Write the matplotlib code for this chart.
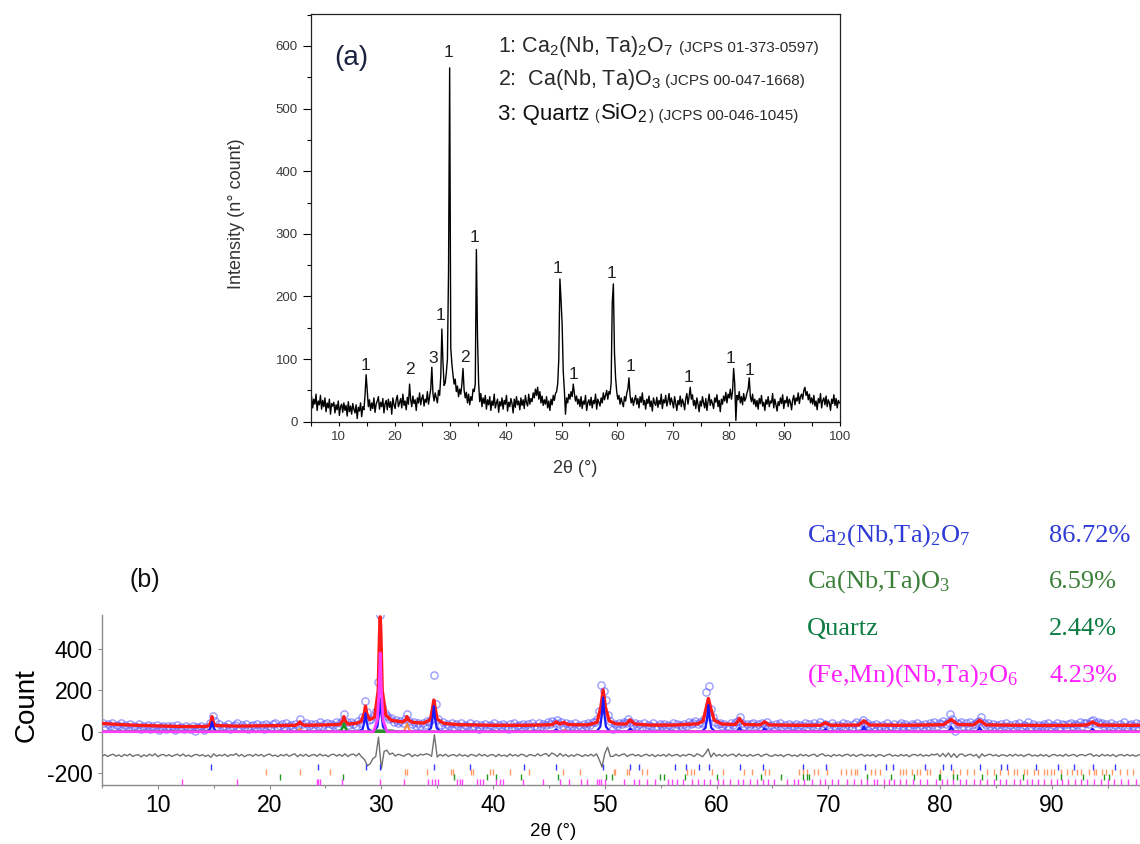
import numpy as np
import matplotlib
matplotlib.use("Agg")
import matplotlib.pyplot as plt
from matplotlib.ticker import MultipleLocator

plt.rcParams['font.family'] = ['Liberation Sans', 'DejaVu Sans']
plt.rcParams['mathtext.default'] = 'regular'
plt.rcParams['axes.unicode_minus'] = False

# ---------------- data ----------------
# observed XRD intensity, sampled every 0.2 deg starting at 5.1 deg
obs_start, obs_step = 5.1, 0.2
intensity = [
    40, 22, 36, 28, 44, 18, 33, 27, 42, 20,
    34, 24, 38, 16, 30, 22, 36, 12, 29, 25,
    31, 14, 27, 19, 33, 10, 24, 28, 15, 30,
    18, 26, 9, 32, 16, 25, 12, 29, 20, 14,
    27, 5, 23, 17, 30, 8, 24, 19, 42, 75,
    50, 24, 35, 18, 30, 21, 38, 15, 28, 33,
    40, 20, 31, 24, 37, 14, 29, 34, 19, 36,
    23, 32, 12, 38, 27, 21, 35, 42, 24, 30,
    37, 22, 44, 26, 33, 19, 39, 28, 60, 35,
    24, 41, 29, 35, 18, 38, 30, 46, 27, 37,
    43, 25, 36, 31, 48, 28, 40, 52, 87, 45,
    33, 46, 38, 30, 50, 42, 72, 148, 95, 58,
    62, 78, 100, 240, 565, 118, 92, 75, 60, 68,
    48, 57, 40, 52, 44, 60, 85, 50, 38, 47,
    30, 44, 27, 40, 34, 52, 48, 60, 275, 135,
    62, 32, 45, 24, 38, 29, 42, 20, 35, 27,
    40, 18, 33, 26, 44, 22, 30, 36, 15, 32,
    25, 38, 20, 34, 28, 42, 17, 31, 24, 37,
    29, 14, 36, 23, 40, 27, 33, 19, 38, 26,
    35, 21, 42, 30, 25, 44, 28, 37, 32, 46,
    38, 52, 42, 55, 36, 48, 30, 41, 26, 35,
    28, 40, 22, 33, 18, 36, 27, 42, 34, 45,
    48, 60, 100, 228, 195, 155, 80, 50, 12, 38,
    30, 44, 36, 48, 40, 60, 45, 33, 41, 28,
    36, 24, 40, 21, 33, 28, 42, 18, 30, 35,
    26, 39, 22, 34, 29, 44, 20, 36, 31, 25,
    38, 30, 46, 35, 42, 50, 36, 48, 44, 62,
    190, 220, 110, 70, 48, 36, 42, 28, 38, 30,
    24, 40, 33, 45, 52, 70, 42, 30, 38, 26,
    35, 42, 28, 37, 22, 40, 31, 46, 27, 34,
    20, 36, 29, 41, 24, 33, 17, 38, 30, 26,
    39, 23, 34, 28, 44, 21, 35, 30, 42, 25,
    33, 45, 27, 38, 31, 22, 40, 29, 18, 34,
    27, 41, 24, 36, 30, 19, 37, 45, 28, 40,
    55, 36, 43, 26, 34, 21, 38, 28, 16, 33,
    25, 40, 30, 22, 37, 18, 32, 44, 26, 35,
    29, 21, 38, 31, 43, 24, 34, 16, 36, 28,
    41, 33, 47, 30, 44, 38, 52, 36, 48, 85,
    60, 2, 42, 35, 48, 30, 40, 27, 45, 33,
    38, 46, 52, 70, 40, 32, 44, 28, 36, 24,
    34, 20, 37, 29, 42, 25, 31, 18, 35, 28,
    40, 24, 33, 30, 45, 22, 36, 27, 17, 32,
    26, 38, 29, 43, 21, 34, 30, 40, 24, 36,
    31, 19, 35, 42, 27, 38, 33, 46, 29, 40,
    44, 36, 50, 55, 42, 48, 35, 44, 30, 38,
    28, 42, 25, 33, 19, 37, 30, 45, 22, 34,
    38, 27, 41, 24, 35, 30, 18, 36, 29, 43,
    26, 37, 22, 34, 30,
]

# Rietveld calculated profile (red line)
calc_x = [5.0, 6.5, 8, 10, 12, 14.3,
          14.6, 14.77, 14.85, 14.93, 15.1,
          17, 20, 22.3, 22.62, 22.7, 22.78, 23.1,
          25, 26.3, 26.57, 26.65, 26.73, 27.0,
          27.8, 28.2, 28.48, 28.58, 28.68, 28.95,
          29.4, 29.72, 29.84, 29.9, 29.96, 30.08, 30.4,
          30.9, 31.9, 32.2, 32.3, 32.4, 32.8,
          33.8, 34.4, 34.6, 34.7, 34.8, 35.0, 35.6,
          37, 40, 43, 45.3, 45.55, 45.65, 45.75, 46.0, 46.2, 46.35, 46.5, 46.8,
          48.5, 49.3, 49.65, 49.85, 50.05, 50.4, 51,
          51.9, 52.15, 52.27, 52.4, 52.7,
          54, 56, 58.3, 58.8, 59.1, 59.27, 59.45, 59.8, 60.5,
          61.7, 61.95, 62.05, 62.15, 62.5,
          63.9, 64.2, 64.3, 64.4, 64.7,
          67, 69.3, 69.65, 69.75, 69.85, 70.2,
          72.7, 73.1, 73.2, 73.3, 73.7,
          77, 80.3, 80.9, 81.0, 81.1, 81.6,
          83.0, 83.45, 83.55, 83.65, 84.1,
          87, 90, 93.1, 93.55, 93.65, 93.75, 94.2,
          96, 98]
calc_y = [40, 35, 31, 28, 25, 25,
          30, 50, 73, 50, 30,
          27, 29, 31, 40, 48, 40, 31,
          33, 35, 55, 73, 55, 37,
          41, 50, 90, 124, 90, 58,
          70, 200, 480, 556, 480, 200, 80,
          55, 47, 58, 73, 58, 45,
          42, 58, 120, 153, 120, 60, 40,
          34, 31, 31, 34, 44, 48, 44, 38, 42, 45, 40, 34,
          33, 45, 120, 202, 120, 52, 38,
          37, 50, 57, 50, 37,
          32, 32, 38, 52, 120, 161, 120, 55, 37,
          35, 55, 65, 55, 35,
          33, 44, 48, 44, 33,
          31, 31, 40, 44, 40, 31,
          32, 48, 53, 48, 32,
          31, 34, 55, 60, 55, 35,
          33, 51, 56, 51, 33,
          31, 30, 32, 44, 48, 44, 32,
          31, 31]

# phase contributions (peak position, peak height)
ca2_peak_pos = [14.85, 28.58, 29.9, 34.7, 45.65, 49.85, 52.27, 59.27, 62.05, 64.3,
                69.75, 73.2, 81.0, 83.55, 93.65]
ca2_peak_h = [48, 89, 161, 124, 12, 165, 16, 129, 20, 16, 12, 24, 24, 21, 14]
cano3_peak_pos = [22.7, 32.3, 46.4, 57.6]
cano3_peak_h = [16, 40, 10, 6]
quartz_peak_pos = [26.65, 62.0]
quartz_peak_h = [40, 5]
hump_x = [29.2, 29.5, 31.0, 31.4]
hump_y = [0, 5, 5, 0]
fmnt_peak_pos = [29.9]
fmnt_peak_h = [381]

# difference curve (obs - calc), every 0.25 deg from 5.0
diff_start, diff_step = 5.0, 0.25
diff = [
    -3, 4, -5, 2, 6, -4, 3, -6,
    5, -2, 7, -5, 1, 4, -7, 3,
    -4, 6, -2, 8, -6, 2, 5, -3,
    4, -5, 1, 6, -3, 7, -4, 2,
    -6, 3, 5, -2, 4, -5, 2, -9,
    8, -4, 3, -2, 6, -5, 4, 1,
    9, -3, 5, -6, 2, 4, -4, 6,
    -2, 5, -5, 3, 7, -3, 2, -6,
    4, -2, 6, -4, 3, 8, -6, 5,
    -3, 6, -5, 2, 5, -4, 7, -2,
    3, -6, 4, 6, -3, 5, -4, 8,
    -5, 4, 7, -3, 10, -8, -20, -50,
    -40, -15, -5, 89, -65, 20, 25, 5,
    12, -3, 6, 2, -4, 5, 8, -6,
    4, -3, 6, 2, 8, 5, -4, 100,
    -8, 5, -3, 6, -5, 2, 4, -4,
    6, -3, 3, -6, 5, 2, -4, 7,
    -2, 5, -5, 3, 4, -6, 6, -3,
    2, -5, 7, -2, 4, -4, 6, 3,
    -6, 4, 2, -3, 8, -2, 5, 9,
    -4, 12, 6, -5, 10, -3, 5, -6,
    3, -4, 6, 2, -5, 4, -3, 6,
    -3, 8, -20, -56, 10, 40, -5, -4,
    6, -3, 4, 8, -5, 3, 6, -2,
    4, -5, 2, 6, -3, 5, -6, 3,
    -2, 5, -4, 7, -3, 2, 5, -5,
    4, -2, 6, 3, -5, 8, 2, -6,
    10, 32, -8, 12, -3, 5, -4, 6,
    -3, 4, 6, -5, 8, -2, 3, -4,
    5, -3, 2, 6, -5, 3, 7, -2,
    -4, 5, -2, 4, -6, 3, 5, -3,
    2, -5, 6, -2, 4, -4, 3, 6,
    -5, 4, 8, -3, 2, -6, 5, -2,
    4, -4, 3, 6, -3, 5, -5, 2,
    6, -4, 3, -2, 5, -6, 4, 2,
    -5, 3, 6, -3, 2, -4, 5, -2,
    4, -6, 3, 5, -2, 6, -4, 3,
    -3, 6, 2, 8, -5, 10, -6, 12,
    -8, 9, -10, 5, 7, -4, 3, 6,
    -3, 5, -12, 8, -4, 3, 6, -2,
    4, -5, 3, 2, -4, 5, -3, 6,
    -2, 4, -5, 3, 6, -3, 2, -4,
    5, -3, 4, -6, 2, 5, -2, 3,
    -4, 6, -3, 2, 5, -5, 3, 4,
    -2, 5, 8, -4, 3, -5, 6, -2,
    4, -3, 5, -6, 2, 4, -3, 5,
    -2, 3, -4, 2, 5,
]

# Bragg reflection positions of each phase
ca2_ticks = [14.8, 24.3, 28.6, 29.9, 34.7, 37.9, 42.8, 45.6, 49.8, 52.3, 53.1, 56.3,
             57.3, 58.4, 59.3, 62.1, 64.2, 67.7, 69.8, 73.3, 75.2, 75.8, 78.7, 80.3,
             81.0, 83.6, 85.5, 86.0, 88.6, 90.6, 92.0, 93.7, 95.7]
cano3_ticks = [19.7, 22.7, 25.4, 32.1, 32.3, 34.1, 36.2, 36.4, 38.0, 38.2, 39.7, 40.0,
               41.5, 43.2, 46.3, 47.8, 50.8, 50.9, 52.0, 52.2, 53.3, 53.8, 57.4, 57.7,
               58.0, 59.6, 60.6, 62.5, 63.2, 64.3, 64.7, 67.4, 67.7, 68.1, 68.7, 69.1,
               69.9, 71.1, 71.6, 72.0, 72.4, 72.6, 73.8, 74.2, 74.6, 76.4, 76.7, 77.0,
               77.5, 77.9, 78.2, 78.8, 79.1, 80.0, 81.2, 81.8, 82.4, 83.0, 84.2, 84.8,
               85.4, 86.1, 86.6, 86.9, 87.5, 87.8, 88.4, 88.8, 89.3, 89.6, 89.9, 90.2,
               90.8, 91.4, 91.8, 92.3, 92.6, 93.3, 93.8, 94.0, 94.5, 94.9, 95.4, 96.1,
               96.7, 97.3]
quartz_ticks = [20.9, 26.6, 36.5, 39.5, 40.3, 42.5, 45.8, 50.1, 50.6, 54.9, 55.3, 57.2,
                60.0, 64.0, 65.8, 67.7, 68.1, 68.3, 73.5, 75.6, 77.7, 79.9, 80.0, 81.2,
                81.5, 83.8, 85.0, 87.4, 90.8, 92.8, 94.7, 95.1]
fmnt_ticks = [12.2, 17.05, 24.2, 24.35, 24.5, 26.5, 29.9, 32.0, 34.2, 34.5, 34.8, 35.1,
              36.8, 37.0, 37.2, 38.6, 38.8, 39.1, 40.3, 40.6, 40.9, 42.7, 44.5, 46.0,
              46.8, 47.9, 48.4, 49.3, 49.5, 49.7, 50.0, 51.7, 52.6, 53.1, 53.8, 54.5,
              55.7, 56.0, 56.5, 57.0, 57.8, 58.3, 58.9, 59.4, 60.1, 60.6, 61.2, 61.9,
              62.4, 63.0, 63.6, 64.2, 64.6, 65.1, 66.3, 66.9, 67.3, 67.8, 68.5, 69.3,
              69.7, 70.3, 70.9, 71.7, 72.3, 72.9, 73.5, 74.1, 74.4, 75.0, 75.4, 75.9,
              76.4, 77.0, 77.6, 78.2, 78.8, 79.6, 80.2, 80.6, 81.2, 81.8, 82.3, 83.0,
              83.6, 84.2, 84.8, 85.4, 85.9, 86.6, 87.2, 87.8, 88.2, 88.8, 89.3, 89.9,
              90.5, 90.9, 91.5, 92.1, 92.6, 93.2, 93.8, 94.4, 95.0, 95.6, 96.2, 96.8, 97.5]

phase_names = ["Ca$_2$(Nb,Ta)$_2$O$_7$", "Ca(Nb,Ta)O$_3$", "Quartz",
               "(Fe,Mn)(Nb,Ta)$_2$O$_6$"]
phase_pct = ["86.72%", "6.59%", "2.44%", "4.23%"]

peak_label_text = ['1', '2', '3', '2', '1', '1', '1', '1', '1', '1', '1', '1', '1', '1']
peak_label_x = [14.8, 22.7, 27.0, 32.7, 28.2, 29.7, 34.3, 49.3, 59.0, 52.2, 62.3, 72.8, 80.4, 83.7]
peak_label_y = [89, 83, 101, 103, 170, 589, 294, 245, 237, 76, 88, 70, 101, 81]

# ---------------- figure ----------------
W, H = 1140, 844
fig = plt.figure(figsize=(W / 100, H / 100), dpi=100)
fig.patch.set_facecolor('white')

two_theta = obs_start + obs_step * np.arange(len(intensity))
diff_x = diff_start + diff_step * np.arange(len(diff))

# ---- panel (a) ----
axA = fig.add_axes([311 / W, 1 - 421.7 / H, 529 / W, 407.7 / H])
axA.plot(two_theta, intensity, color='black', lw=1.0)
axA.set_xlim(5, 100)
axA.set_ylim(0, 651)
axA.xaxis.set_major_locator(MultipleLocator(10))
axA.xaxis.set_minor_locator(MultipleLocator(5))
axA.yaxis.set_major_locator(MultipleLocator(100))
axA.yaxis.set_minor_locator(MultipleLocator(50))
axA.tick_params(axis='y', which='major', direction='out', length=6, width=0.8,
                labelsize=9.5, labelcolor='#3a3a3a')
axA.tick_params(axis='y', which='minor', direction='out', length=3, width=0.8)
axA.tick_params(axis='x', which='both', direction='out', length=3, width=0.8,
                labelsize=9.5, labelcolor='#3a3a3a')
for sp in axA.spines.values():
    sp.set_linewidth(0.9)
    sp.set_color('#222222')
axA.set_xlabel('2θ (°)', fontsize=13, color='#333333')
axA.xaxis.set_label_coords(0.5, -0.095)
axA.set_ylabel('Intensity (n° count)', fontsize=13, color='#333333')
axA.yaxis.set_label_coords(-0.125, 0.51)
axA.text(12.3, 580, '(a)', fontsize=20, ha='center', va='center', color='#1c2340')
for s, x, y in zip(peak_label_text, peak_label_x, peak_label_y):
    axA.text(x, y, s, fontsize=12.5, ha='center', va='center', color='#222222')

renderer = fig.canvas.get_renderer()


def chain_text(x_px, y_px, parts):
    cur = x_px
    for s, size, gap, color in parts:
        cur += gap
        t = fig.text(cur / W, 1 - y_px / H, s, fontsize=size, color=color,
                     ha='left', va='baseline')
        cur += t.get_window_extent(renderer).width


leg_x = axA.transData.transform((38.6, 0))[0]
row_y = [H - axA.transData.transform((0, v))[1] for v in (590, 538, 482)]
chain_text(leg_x, row_y[0], [("1: Ca$_2$(Nb, Ta)$_2$O$_7$", 15.5, 0, '#2a2a2a'),
                             ("(JCPS 01-373-0597)", 11, 6, '#2a2a2a')])
chain_text(leg_x, row_y[1], [("2:  Ca(Nb, Ta)O$_3$", 15.5, 0, '#2a2a2a'),
                             ("(JCPS 00-047-1668)", 11, 4, '#2a2a2a')])
chain_text(leg_x, row_y[2], [("3: Quartz", 16, 0, '#111111'),
                             ("(", 10, 5, '#2a2a2a'),
                             ("SiO$_2$", 16, 1, '#111111'),
                             (") (JCPS 00-046-1045)", 11, 1, '#2a2a2a')])

# ---- panel (b) ----
axB = fig.add_axes([102 / W, 1 - 785 / H, 1038 / W, 170 / H])
axB.set_xlim(5, 97.9)
axB.set_ylim(-258, 565)

PROFILE_DX = [-0.6, -0.25, -0.1, 0.0, 0.1, 0.25, 0.6]
PROFILE_FR = [0.0, 0.15, 0.55, 1.0, 0.55, 0.15, 0.0]


def phase_curve(pos, h):
    xs, ys = [5.0], [0.0]
    for p, v in sorted(zip(pos, h)):
        xs += [p + d for d in PROFILE_DX]
        ys += [v * f for f in PROFILE_FR]
    xs.append(98.0)
    ys.append(0.0)
    return xs, ys


axB.plot(two_theta, intensity, ls='none', marker='o', ms=5.2, mfc='none',
         mec='#5a5aff', mew=1.0, alpha=0.6, zorder=2)
axB.plot(calc_x, calc_y, color='#ff1a1a', lw=2.4, zorder=3)
bx, by = phase_curve(ca2_peak_pos, ca2_peak_h)
axB.plot(bx, by, color='#1a1aff', lw=1.6, zorder=4)
ox, oy = phase_curve(cano3_peak_pos, cano3_peak_h)
axB.plot(ox, oy, color='#ff8c3a', lw=1.4, zorder=4)
gx, gy = phase_curve(quartz_peak_pos, quartz_peak_h)
axB.plot(gx, gy, color='#1a9a1a', lw=1.8, zorder=4)
axB.plot(hump_x, hump_y, color='#2f8f2f', lw=1.8, zorder=4)
mx, my = phase_curve(fmnt_peak_pos, fmnt_peak_h)
axB.plot(mx, my, color='#ff3cff', lw=2.0, zorder=5)

DIFF_OFFSET = -115
axB.plot(diff_x, np.asarray(diff) + DIFF_OFFSET, color='#707070', lw=1.0, zorder=3)

tick_rows = [(ca2_ticks, -172, '#3b3bff'), (cano3_ticks, -196, '#ff9a66'),
             (quartz_ticks, -221, '#1f9a1f'), (fmnt_ticks, -242, '#ff44ff')]
for pos, yrow, col in tick_rows:
    axB.plot(pos, np.full(len(pos), yrow), ls='none', marker='|', ms=4.5, mew=1.0,
             color=col, zorder=3)

axB.spines['top'].set_visible(False)
axB.spines['right'].set_visible(False)
for k in ('left', 'bottom'):
    axB.spines[k].set_color('#8c8c8c')
    axB.spines[k].set_linewidth(1.0)
axB.xaxis.set_major_locator(MultipleLocator(10))
axB.xaxis.set_minor_locator(MultipleLocator(5))
axB.set_yticks([-200, 0, 200, 400])
axB.tick_params(axis='both', which='major', direction='out', length=3, width=0.8,
                color='#8c8c8c', labelsize=16.5, labelcolor='black')
axB.tick_params(axis='x', which='minor', direction='out', length=2, width=0.8,
                color='#8c8c8c')
axB.set_xlabel('2θ (°)', fontsize=13.5)
axB.xaxis.set_label_coords(0.4345, -0.225)
axB.set_ylabel('Count', fontsize=20)
axB.yaxis.set_label_coords(-0.06, 0.47)

fig.text(145 / W, 1 - 580 / H, '(b)', fontsize=18, ha='center', va='center', color='#111111')

phase_colors = ['#2f3bd6', '#3c803a', '#0e7d44', '#ff22ff']
row_base = [541.7, 588, 635, 681.7]
for name, pct, col, yb in zip(phase_names, phase_pct, phase_colors, row_base):
    fig.text(806.7 / W, 1 - yb / H, name, fontsize=19, color=col, ha='left',
             va='baseline', family='Liberation Serif')
    fig.text(1049 / W, 1 - yb / H, pct, fontsize=19, color=col, ha='left',
             va='baseline', family='Liberation Serif')

fig.savefig('out.png', dpi=100)
